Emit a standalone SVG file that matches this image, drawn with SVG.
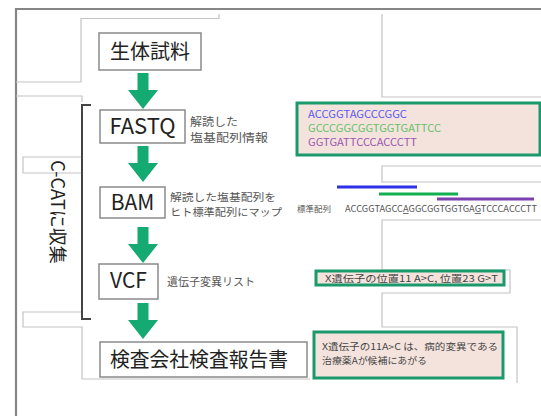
<svg xmlns="http://www.w3.org/2000/svg" width="541" height="416" viewBox="0 0 541 416">
<style>
.bg{fill:none;stroke:#c4c4c4;stroke-width:1.2}
.box{fill:#fff;stroke:#8a8a8a;stroke-width:1.5}
.gbox{fill:#f4e3dd;stroke:#1a9a6c;stroke-width:3}
.t{font-family:"Noto Sans CJK JP","Liberation Sans",sans-serif;fill:#222}
.side{font-family:"Noto Sans CJK JP",sans-serif;fill:#555}
.small{font-family:"Noto Sans CJK JP","Liberation Sans",sans-serif;fill:#444}
.arrow{fill:#14aa72}
</style>
<defs>
<path id="arr" d="M-5.5,0 H5.5 V17 H15 L0,36 L-15,17 H-5.5 Z"/>
</defs>
<g id="background">
<path d="M16,416 V9 H541" fill="none" stroke="#858585" stroke-width="2.2"/>
<path class="bg" d="M16,82 H81 V18.5 H219 V14"/>
<path class="bg" d="M16,96 H82 V102"/>
<path class="bg" d="M82,157 H23 V173 H82"/>
<path class="bg" d="M82,312 H23 V327 H82 V379 H310"/>
<path class="bg" d="M382,14 V97 H541"/>
<path class="bg" d="M541,166 H382 V182 H541"/>
<path class="bg" d="M541,220 H382 V270 H510 V293 H382 V327 H517 V383"/>
</g>
<g id="connectors">
<use href="#arr" class="arrow" transform="translate(143,73)"/>
<use href="#arr" class="arrow" transform="translate(143,146)"/>
<use href="#arr" class="arrow" transform="translate(143,227)"/>
<use href="#arr" class="arrow" transform="translate(143,303)"/>
</g>
<g id="bracket">
<path d="M91,105 H82 V319 H91" fill="none" stroke="#444" stroke-width="2"/>
<text class="t" font-size="18" transform="translate(51,212) rotate(90)" text-anchor="middle">C-CATに収集</text>
</g>
<g id="sample">
<rect class="box" x="99" y="33" width="102" height="37"/>
<text class="t" x="150" y="59" font-size="20" text-anchor="middle">生体試料</text>
</g>
<g id="fastq">
<rect class="box" x="100" y="110" width="85" height="33"/>
<text class="t" x="142.5" y="134" font-size="22" text-anchor="middle">FASTQ</text>
<text class="side" x="190" y="126" font-size="11" textLength="48" lengthAdjust="spacingAndGlyphs">解読した</text>
<text class="side" x="190" y="142" font-size="11" textLength="78" lengthAdjust="spacingAndGlyphs">塩基配列情報</text>
</g>
<g id="bam">
<rect class="box" x="100" y="187" width="65" height="31"/>
<text class="t" x="132.5" y="210" font-size="21" text-anchor="middle">BAM</text>
<text class="side" x="170" y="201" font-size="10.5" textLength="106" lengthAdjust="spacingAndGlyphs">解読した塩基配列を</text>
<text class="side" x="170" y="216" font-size="10.5" textLength="112" lengthAdjust="spacingAndGlyphs">ヒト標準配列にマップ</text>
</g>
<g id="vcf">
<rect class="box" x="99" y="264" width="59" height="35"/>
<text class="t" x="128.5" y="288" font-size="21" text-anchor="middle">VCF</text>
<text class="side" x="167" y="286" font-size="11">遺伝子変異リスト</text>
</g>
<g id="report">
<rect class="box" x="100" y="342" width="207" height="35"/>
<text class="t" x="110" y="367" font-size="20" textLength="178" lengthAdjust="spacingAndGlyphs">検査会社検査報告書</text>
</g>
<g id="reads">
<rect class="gbox" x="297" y="103" width="243" height="52"/>
<text class="small" x="308" y="118" font-size="10" style="fill:#5a5af0" textLength="99" lengthAdjust="spacingAndGlyphs">ACCGGTAGCCCGGC</text>
<text class="small" x="308" y="132" font-size="10" style="fill:#66c06a" textLength="133" lengthAdjust="spacingAndGlyphs">GCCCGGCGGTGGTGATTCC</text>
<text class="small" x="308" y="146" font-size="10" style="fill:#9a58b0" textLength="109" lengthAdjust="spacingAndGlyphs">GGTGATTCCCACCCTT</text>
</g>
<g id="alignment">
<line x1="337" y1="187" x2="417" y2="187" stroke="#2f2fe8" stroke-width="3"/>
<line x1="379" y1="194" x2="458" y2="194" stroke="#12b050" stroke-width="3"/>
<line x1="437" y1="199" x2="534" y2="199" stroke="#7b3fae" stroke-width="3"/>
<text class="side" x="297" y="212" font-size="8.5">標準配列</text>
<text class="small" x="345" y="212" font-size="8.5" style="fill:#555" textLength="192" lengthAdjust="spacingAndGlyphs">ACCGGTAGCC<tspan text-decoration="underline">A</tspan>GGCGGTGGTGA<tspan text-decoration="underline">G</tspan>TCCCACCCTT</text>
</g>
<g id="variants">
<rect class="gbox" x="316" y="271" width="188" height="14" stroke-width="2.5"/>
<text class="small" x="325" y="282" font-size="9.5" textLength="173" lengthAdjust="spacingAndGlyphs">X遺伝子の位置11 A&gt;C, 位置23 G&gt;T</text>
</g>
<g id="finding">
<rect class="gbox" x="314" y="332" width="189" height="46"/>
<text class="small" x="322" y="350" font-size="9" textLength="176" lengthAdjust="spacingAndGlyphs">X遺伝子の11A&gt;C は、病的変異である</text>
<text class="small" x="322" y="364" font-size="9" textLength="105" lengthAdjust="spacingAndGlyphs">治療薬Aが候補にあがる</text>
</g>
</svg>
